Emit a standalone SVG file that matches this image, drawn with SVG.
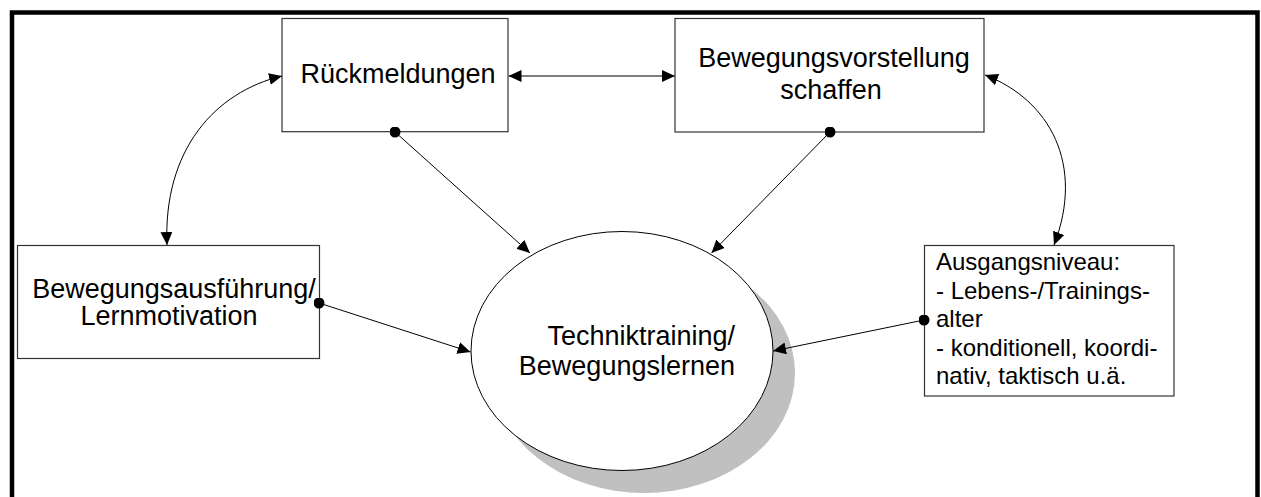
<svg xmlns="http://www.w3.org/2000/svg" width="1261" height="497" viewBox="0 0 1261 497">
<style>
.box{fill:#fff;stroke:#333;stroke-width:1.2}
.lbl{font-family:"Liberation Sans",Arial,Helvetica,sans-serif;font-size:27px;fill:#000}
.sm{font-family:"Liberation Sans",Arial,Helvetica,sans-serif;font-size:24px;fill:#000}
.con{fill:none;stroke:#000;stroke-width:1}
</style>
<defs>
<marker id="arr" viewBox="0 0 13 12" refX="13" refY="6" markerWidth="13" markerHeight="12" markerUnits="userSpaceOnUse" orient="auto-start-reverse">
<path d="M0,0 L13,6 L0,12 z" fill="#000"/>
</marker>
<marker id="dot" viewBox="0 0 12 12" refX="6" refY="6" markerWidth="11" markerHeight="11" markerUnits="userSpaceOnUse">
<circle cx="6" cy="6" r="6" fill="#000"/>
</marker>
</defs>
<rect width="1261" height="497" fill="#fff"/>
<path d="M12,497 V12.5 H1257.5 V497" fill="none" stroke="#000" stroke-width="4.5"/>

<g id="node-technik">
<ellipse cx="644" cy="373" rx="151" ry="120" fill="#c0c0c0"/>
<ellipse cx="622" cy="351" rx="151" ry="119.5" fill="#fff" stroke="#000" stroke-width="1"/>
<text class="lbl" text-anchor="end" x="735" y="345">Techniktraining/</text>
<text class="lbl" text-anchor="end" x="735" y="375">Bewegungslernen</text>
</g>

<g id="node-rueckmeldungen">
<rect class="box" x="282" y="18.5" width="226" height="113.2"/>
<text class="lbl" text-anchor="middle" x="398" y="83">Rückmeldungen</text>
</g>

<g id="node-bewegungsvorstellung">
<rect class="box" x="675" y="18.5" width="309" height="113.5"/>
<text class="lbl" text-anchor="middle" x="834" y="67">Bewegungsvorstellung</text>
<text class="lbl" text-anchor="middle" x="831" y="99">schaffen</text>
</g>

<g id="node-bewegungsausfuehrung">
<rect class="box" x="17.5" y="245.5" width="302" height="113"/>
<text class="lbl" text-anchor="middle" x="174" y="298">Bewegungsausführung/</text>
<text class="lbl" text-anchor="middle" x="169" y="325">Lernmotivation</text>
</g>

<g id="node-ausgangsniveau">
<rect class="box" x="924.5" y="245.5" width="249.5" height="150.5"/>
<text class="sm" x="936" y="270">Ausgangsniveau:</text>
<text class="sm" x="936" y="298.5">- Lebens-/Trainings-</text>
<text class="sm" x="936" y="327">alter</text>
<text class="sm" x="936" y="355.5">- konditionell, koordi-</text>
<text class="sm" x="936" y="384">nativ, taktisch u.ä.</text>
</g>

<g id="connectors">
<path d="M508.5,76 H675" fill="none" stroke="#555" stroke-width="1.6" marker-start="url(#arr)" marker-end="url(#arr)"/>
<path class="con" d="M282,76 C215,92 163,150 167,245" marker-start="url(#arr)" marker-end="url(#arr)"/>
<path class="con" d="M985,75 C1050,100 1085,165 1054,245" marker-start="url(#arr)" marker-end="url(#arr)"/>
<path class="con" d="M395,132 L530,253" marker-start="url(#dot)" marker-end="url(#arr)"/>
<path class="con" d="M830,132 L711.5,253" marker-start="url(#dot)" marker-end="url(#arr)"/>
<path class="con" d="M319,303 L470.5,352" marker-start="url(#dot)" marker-end="url(#arr)"/>
<path class="con" d="M924,320 L773,351" marker-start="url(#dot)" marker-end="url(#arr)"/>
</g>
</svg>
